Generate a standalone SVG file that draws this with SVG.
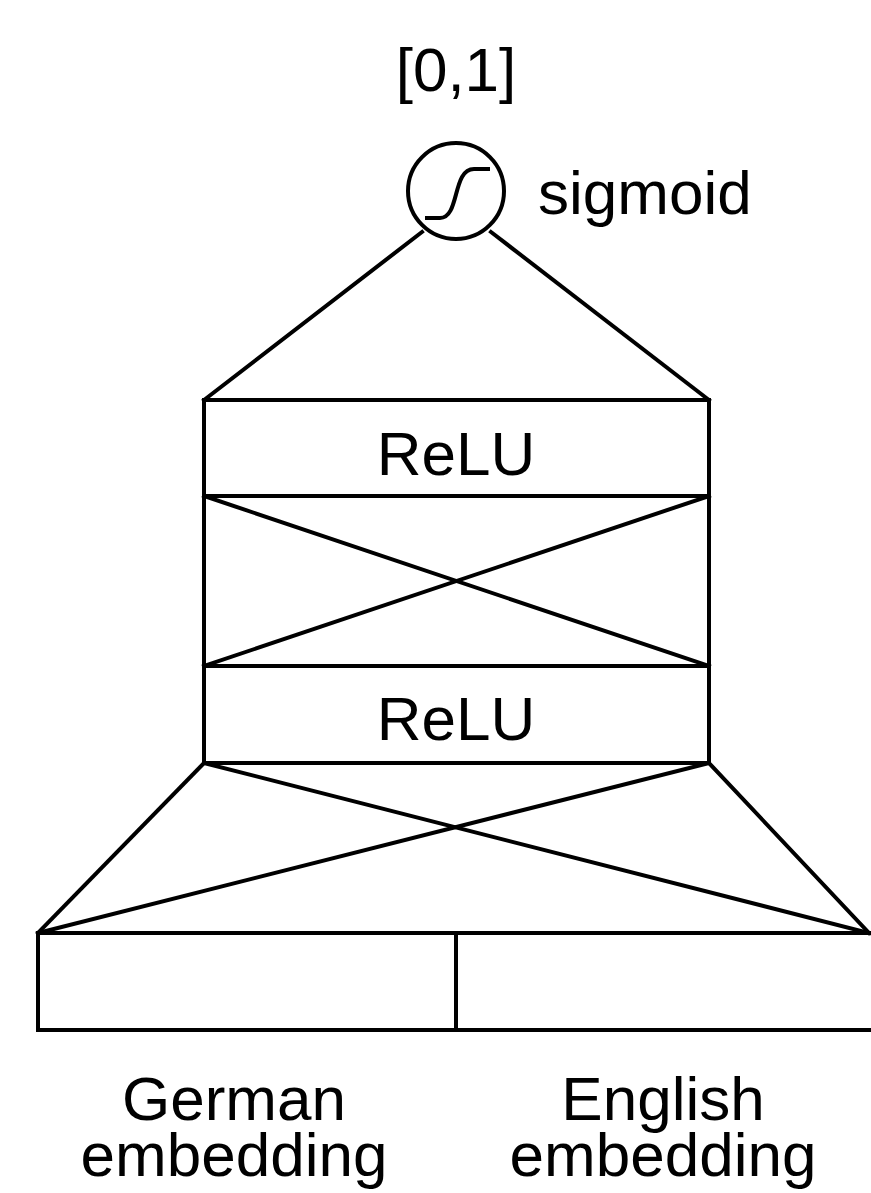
<svg xmlns="http://www.w3.org/2000/svg" width="871" height="1193" viewBox="0 0 871 1193">
<style>
.s{fill:none;stroke:#000;stroke-width:4;stroke-linejoin:miter;stroke-linecap:square}
.b{fill:#fff;stroke:#000;stroke-width:4}
text{font-family:"Liberation Sans",Arial,sans-serif;font-size:62px;fill:#000}
.m{text-anchor:middle}
</style>
<rect width="871" height="1193" fill="#fff"/>
<g id="connectors">
<line class="s" x1="422" y1="232" x2="204" y2="400"/>
<line class="s" x1="491" y1="232" x2="709" y2="400"/>
<line class="s" x1="204" y1="496" x2="709" y2="666"/>
<line class="s" x1="709" y1="496" x2="204" y2="666"/>
<line class="s" x1="204" y1="496" x2="204" y2="666"/>
<line class="s" x1="709" y1="496" x2="709" y2="666"/>
<line class="s" x1="204" y1="763" x2="38" y2="933"/>
<line class="s" x1="709" y1="763" x2="869" y2="933"/>
<line class="s" x1="204" y1="763" x2="869" y2="933"/>
<line class="s" x1="709" y1="763" x2="38" y2="933"/>
</g>
<g id="output">
<text class="m" x="456" y="91">[0,1]</text>
</g>
<g id="sigmoid">
<circle class="b" cx="456" cy="191" r="48"/>
<path class="s" d="M427,218 L440,218 C460,218 452,169 474,169 L488,169" stroke-linecap="butt"/>
<text x="538" y="214">sigmoid</text>
</g>
<g id="relu1">
<rect class="b" x="204" y="400" width="505" height="96"/>
<text class="m" x="456" y="475">ReLU</text>
</g>
<g id="relu2">
<rect class="b" x="204" y="666" width="505" height="97"/>
<text class="m" x="456" y="740">ReLU</text>
</g>
<g id="german">
<path class="s" d="M456,933 L38,933 L38,1030 L456,1030"/>
<text class="m" x="234" y="1120">German</text>
<text class="m" x="234" y="1176">embedding</text>
</g>
<g id="english">
<path class="s" d="M456,933 L875,933 M875,1030 L456,1030 M456,933 L456,1030"/>
<text class="m" x="663" y="1120">English</text>
<text class="m" x="663" y="1176">embedding</text>
</g>
</svg>
